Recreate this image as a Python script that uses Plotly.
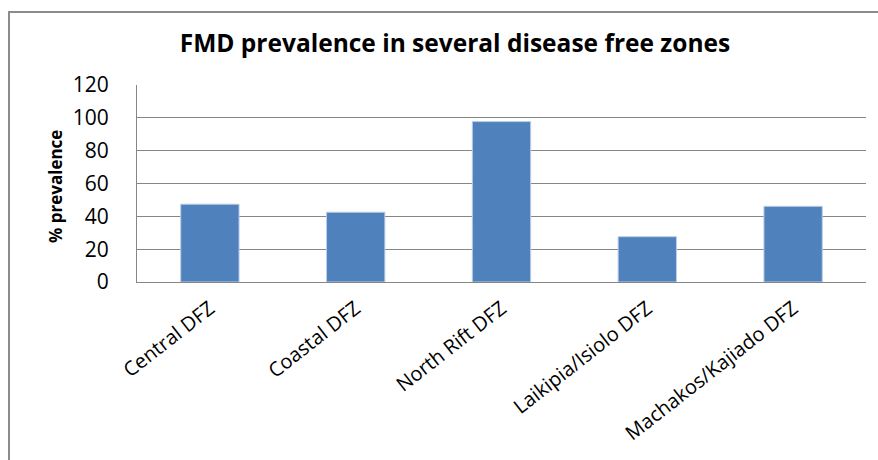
import plotly.graph_objects as go

# FMD prevalence by disease free zone
zones = ["Central DFZ", "Coastal DFZ", "North Rift DFZ", "Laikipia/Isiolo DFZ", "Machakos/Kajiado DFZ"]
prevalence = [47.4, 42.5, 97.7, 27.6, 46.1]
y_ticks = [0, 20, 40, 60, 80, 100, 120]

W, H = 878, 460
L, R, T, B = 137, 12, 85, 178

FONT = "Open Sans, sans-serif"
GRID = "#868686"

fig = go.Figure(
    go.Bar(
        x=zones,
        y=prevalence,
        marker=dict(color="#4F81BD", line=dict(color="#B9CDE5", width=1)),
        hoverinfo="x+y",
    )
)

plot_w = W - L - R
plot_h = H - T - B

fig.update_layout(
    width=W,
    height=H,
    margin=dict(l=L, r=R, t=T, b=B, pad=0),
    paper_bgcolor="white",
    plot_bgcolor="white",
    bargap=0.6,
    showlegend=False,
    font=dict(family=FONT, color="#000000"),
    title=dict(
        text="<b>FMD prevalence in several disease free zones</b>",
        font=dict(family=FONT, size=24.5, color="#000000"),
        x=455 / W,
        xref="container",
        xanchor="center",
        y=1 - 43 / H,
        yref="container",
        yanchor="middle",
    ),
    xaxis=dict(
        type="category",
        tickangle=-38,
        tickfont=dict(family=FONT, size=20, color="#000000"),
        showgrid=False,
        showline=True,
        linecolor=GRID,
        linewidth=1,
        ticks="",
        ticklabelstandoff=6,
        fixedrange=True,
    ),
    yaxis=dict(
        range=[0, 120],
        tickvals=y_ticks,
        tickfont=dict(family=FONT, size=21, color="#000000"),
        showgrid=True,
        gridcolor=GRID,
        gridwidth=1,
        showline=True,
        linecolor=GRID,
        linewidth=1,
        ticks="",
        ticklabelstandoff=23,
        zeroline=False,
        fixedrange=True,
    ),
    annotations=[
        dict(
            text="<b>% prevalence</b>",
            textangle=-90,
            xref="paper",
            yref="paper",
            x=(55 - L) / plot_w,
            y=(H - B - 187) / plot_h,
            xanchor="center",
            yanchor="middle",
            showarrow=False,
            font=dict(family=FONT, size=17, color="#000000"),
        )
    ],
    shapes=[
        dict(
            type="rect",
            xref="paper",
            yref="paper",
            x0=(9 - L) / plot_w,
            x1=(W + 20 - L) / plot_w,
            y0=-(B + 20) / plot_h,
            y1=(H - B - 12) / plot_h,
            line=dict(color="#8C8C8C", width=2),
            fillcolor="rgba(0,0,0,0)",
            layer="below",
        )
    ],
)

fig.write_html("out.html")
